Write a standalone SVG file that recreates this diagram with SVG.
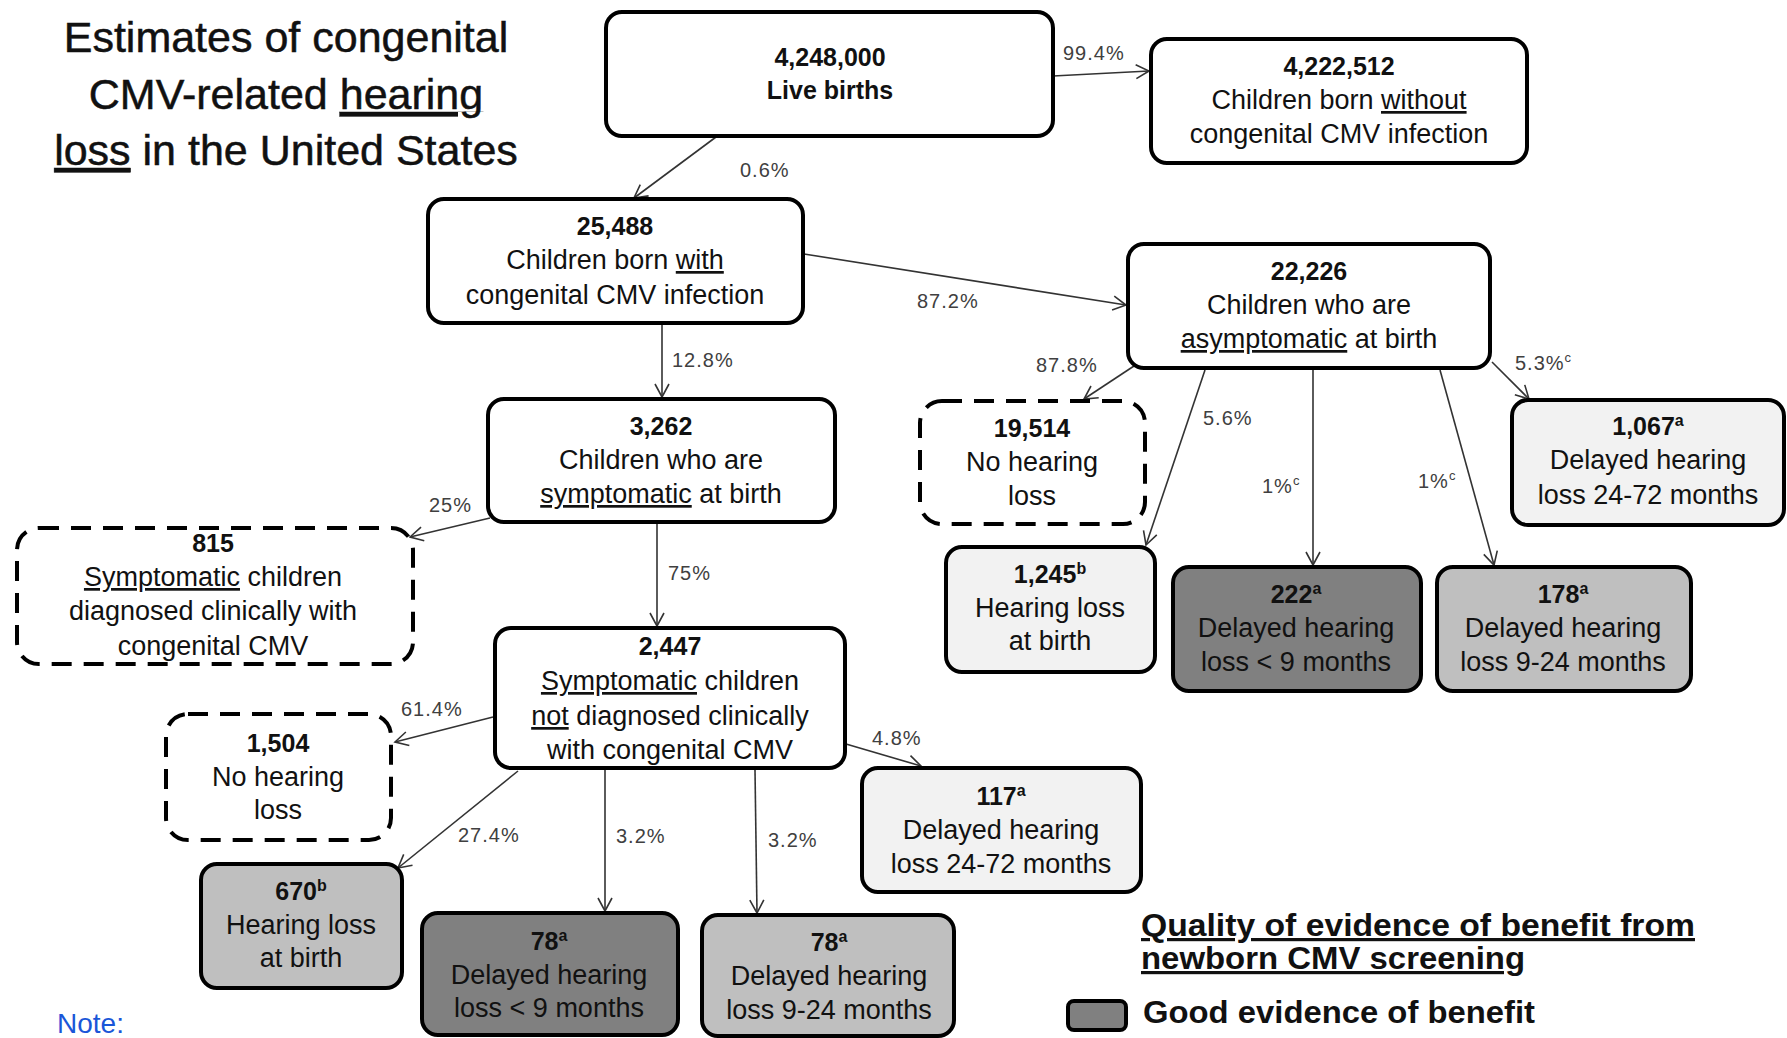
<svg xmlns="http://www.w3.org/2000/svg" width="1787" height="1038" viewBox="0 0 1787 1038">
<defs>
<style>
.box{stroke:#000;stroke-width:4}
.w{fill:#fff}
.l{fill:#f2f2f2}
.m{fill:#bfbfbf}
.d{fill:#808080}
.dash{fill:#fff;stroke:#000;stroke-width:4;stroke-dasharray:20 12}
.t{font-family:"Liberation Sans",Arial,sans-serif;font-size:27px;fill:#111;text-anchor:middle}
.n{font-weight:bold;font-size:25px}
.s{font-size:16px}
.p{font-family:"Liberation Sans",Arial,sans-serif;font-size:20px;fill:#404040;letter-spacing:1px}
.u{text-decoration:underline}
.c{stroke:#333;stroke-width:1.6;fill:none;marker-end:url(#a)}
.title{font-family:"Liberation Sans",Arial,sans-serif;font-size:43px;fill:#111;text-anchor:middle;stroke:#111;stroke-width:0.5}
.lg{font-family:"Liberation Sans",Arial,sans-serif;font-size:32px;font-weight:bold;fill:#111}
</style>
<marker id="a" markerWidth="16" markerHeight="16" refX="14" refY="8" orient="auto" markerUnits="userSpaceOnUse">
<path d="M1,1 L14,8 L1,15" fill="none" stroke="#333" stroke-width="1.6"/>
</marker>
</defs>
<rect width="1787" height="1038" fill="#fff"/>

<g id="title">
<text class="title" x="286" y="52">Estimates of congenital</text>
<text class="title" x="286" y="109">CMV-related <tspan class="u">hearing</tspan></text>
<text class="title" x="286" y="165"><tspan class="u">loss</tspan> in the United States</text>
</g>

<g id="connectors">
<path class="c" d="M1053,76 L1149,71"/>
<path class="c" d="M716,137 L634,198"/>
<path class="c" d="M804,254 L1126,305"/>
<path class="c" d="M662,324 L662,397"/>
<path class="c" d="M490,518 L410,537"/>
<path class="c" d="M657,523 L657,626"/>
<path class="c" d="M493,717 L395,742"/>
<path class="c" d="M518,771 L398,868"/>
<path class="c" d="M605,770 L605,911"/>
<path class="c" d="M755,770 L757,913"/>
<path class="c" d="M846,744 L921,766"/>
<path class="c" d="M1134,366 L1084,399"/>
<path class="c" d="M1205,370 L1146,545"/>
<path class="c" d="M1313,370 L1313,565"/>
<path class="c" d="M1440,370 L1494,565"/>
<path class="c" d="M1492,362 L1529,399"/>
<text class="p" x="1063" y="60">99.4%</text>
<text class="p" x="740" y="177">0.6%</text>
<text class="p" x="917" y="308">87.2%</text>
<text class="p" x="672" y="367">12.8%</text>
<text class="p" x="429" y="512">25%</text>
<text class="p" x="668" y="580">75%</text>
<text class="p" x="401" y="716">61.4%</text>
<text class="p" x="458" y="842">27.4%</text>
<text class="p" x="616" y="843">3.2%</text>
<text class="p" x="768" y="847">3.2%</text>
<text class="p" x="872" y="745">4.8%</text>
<text class="p" x="1036" y="372">87.8%</text>
<text class="p" x="1203" y="425">5.6%</text>
<text class="p" x="1262" y="493">1%<tspan font-size="13" dy="-8">c</tspan></text>
<text class="p" x="1418" y="488">1%<tspan font-size="13" dy="-8">c</tspan></text>
<text class="p" x="1515" y="370">5.3%<tspan font-size="13" dy="-8">c</tspan></text>
</g>

<g id="live-births">
<rect class="box w" x="606" y="12" width="447" height="124" rx="16"/>
<text class="t n" x="830" y="66">4,248,000</text>
<text class="t n" x="830" y="99">Live births</text>
</g>

<g id="without-cmv">
<rect class="box w" x="1151" y="39" width="376" height="124" rx="16"/>
<text class="t n" x="1339" y="75">4,222,512</text>
<text class="t" x="1339" y="109">Children born <tspan class="u">without</tspan></text>
<text class="t" x="1339" y="143">congenital CMV infection</text>
</g>

<g id="with-cmv">
<rect class="box w" x="428" y="199" width="375" height="124" rx="16"/>
<text class="t n" x="615" y="235">25,488</text>
<text class="t" x="615" y="269">Children born <tspan class="u">with</tspan></text>
<text class="t" x="615" y="304">congenital CMV infection</text>
</g>

<g id="asymptomatic">
<rect class="box w" x="1128" y="244" width="362" height="124" rx="16"/>
<text class="t n" x="1309" y="280">22,226</text>
<text class="t" x="1309" y="314">Children who are</text>
<text class="t" x="1309" y="348"><tspan class="u">asymptomatic</tspan> at birth</text>
</g>

<g id="symptomatic">
<rect class="box w" x="488" y="399" width="347" height="123" rx="16"/>
<text class="t n" x="661" y="435">3,262</text>
<text class="t" x="661" y="469">Children who are</text>
<text class="t" x="661" y="503"><tspan class="u">symptomatic</tspan> at birth</text>
</g>

<g id="diagnosed">
<rect class="dash" x="17" y="528" width="396" height="136" rx="22"/>
<text class="t n" x="213" y="552">815</text>
<text class="t" x="213" y="586"><tspan class="u">Symptomatic</tspan> children</text>
<text class="t" x="213" y="620">diagnosed clinically with</text>
<text class="t" x="213" y="655">congenital CMV</text>
</g>

<g id="not-diagnosed">
<rect class="box w" x="495" y="628" width="350" height="140" rx="16"/>
<text class="t n" x="670" y="655">2,447</text>
<text class="t" x="670" y="690"><tspan class="u">Symptomatic</tspan> children</text>
<text class="t" x="670" y="725"><tspan class="u">not</tspan> diagnosed clinically</text>
<text class="t" x="670" y="759">with congenital CMV</text>
</g>

<g id="no-loss-sym">
<rect class="dash" x="166" y="714" width="225" height="126" rx="22"/>
<text class="t n" x="278" y="752">1,504</text>
<text class="t" x="278" y="786">No hearing</text>
<text class="t" x="278" y="819">loss</text>
</g>

<g id="birth-sym">
<rect class="box m" x="201" y="864" width="201" height="124" rx="16"/>
<text class="t n" x="301" y="900">670<tspan class="s" dy="-9">b</tspan></text>
<text class="t" x="301" y="934">Hearing loss</text>
<text class="t" x="301" y="967">at birth</text>
</g>

<g id="lt9-sym">
<rect class="box d" x="422" y="913" width="256" height="122" rx="16"/>
<text class="t n" x="549" y="950">78<tspan class="s" dy="-9">a</tspan></text>
<text class="t" x="549" y="984">Delayed hearing</text>
<text class="t" x="549" y="1017">loss &lt; 9 months</text>
</g>

<g id="9-24-sym">
<rect class="box m" x="702" y="915" width="252" height="121" rx="16"/>
<text class="t n" x="829" y="951">78<tspan class="s" dy="-9">a</tspan></text>
<text class="t" x="829" y="985">Delayed hearing</text>
<text class="t" x="829" y="1019">loss 9-24 months</text>
</g>

<g id="24-72-sym">
<rect class="box l" x="862" y="768" width="279" height="124" rx="16"/>
<text class="t n" x="1001" y="805">117<tspan class="s" dy="-9">a</tspan></text>
<text class="t" x="1001" y="839">Delayed hearing</text>
<text class="t" x="1001" y="873">loss 24-72 months</text>
</g>

<g id="no-loss-asym">
<rect class="dash" x="920" y="401" width="225" height="123" rx="22"/>
<text class="t n" x="1032" y="437">19,514</text>
<text class="t" x="1032" y="471">No hearing</text>
<text class="t" x="1032" y="505">loss</text>
</g>

<g id="birth-asym">
<rect class="box l" x="946" y="547" width="209" height="125" rx="16"/>
<text class="t n" x="1050" y="583">1,245<tspan class="s" dy="-9">b</tspan></text>
<text class="t" x="1050" y="617">Hearing loss</text>
<text class="t" x="1050" y="650">at birth</text>
</g>

<g id="lt9-asym">
<rect class="box d" x="1173" y="567" width="248" height="124" rx="16"/>
<text class="t n" x="1296" y="603">222<tspan class="s" dy="-9">a</tspan></text>
<text class="t" x="1296" y="637">Delayed hearing</text>
<text class="t" x="1296" y="671">loss &lt; 9 months</text>
</g>

<g id="9-24-asym">
<rect class="box m" x="1437" y="567" width="254" height="124" rx="16"/>
<text class="t n" x="1563" y="603">178<tspan class="s" dy="-9">a</tspan></text>
<text class="t" x="1563" y="637">Delayed hearing</text>
<text class="t" x="1563" y="671">loss 9-24 months</text>
</g>

<g id="24-72-asym">
<rect class="box l" x="1512" y="400" width="272" height="125" rx="16"/>
<text class="t n" x="1648" y="435">1,067<tspan class="s" dy="-9">a</tspan></text>
<text class="t" x="1648" y="469">Delayed hearing</text>
<text class="t" x="1648" y="504">loss 24-72 months</text>
</g>

<g id="legend">
<text class="lg u" x="1141" y="936" textLength="554" lengthAdjust="spacingAndGlyphs">Quality of evidence of benefit from</text>
<text class="lg u" x="1141" y="969" textLength="384" lengthAdjust="spacingAndGlyphs">newborn CMV screening</text>
<rect class="box d" x="1068" y="1001" width="58" height="29" rx="6"/>
<text class="lg" x="1143" y="1023" textLength="392" lengthAdjust="spacingAndGlyphs">Good evidence of benefit</text>
</g>

<g id="note">
<text x="57" y="1033" font-family="'Liberation Sans',Arial,sans-serif" font-size="28" fill="#1a56d8">Note:</text>
</g>
</svg>
